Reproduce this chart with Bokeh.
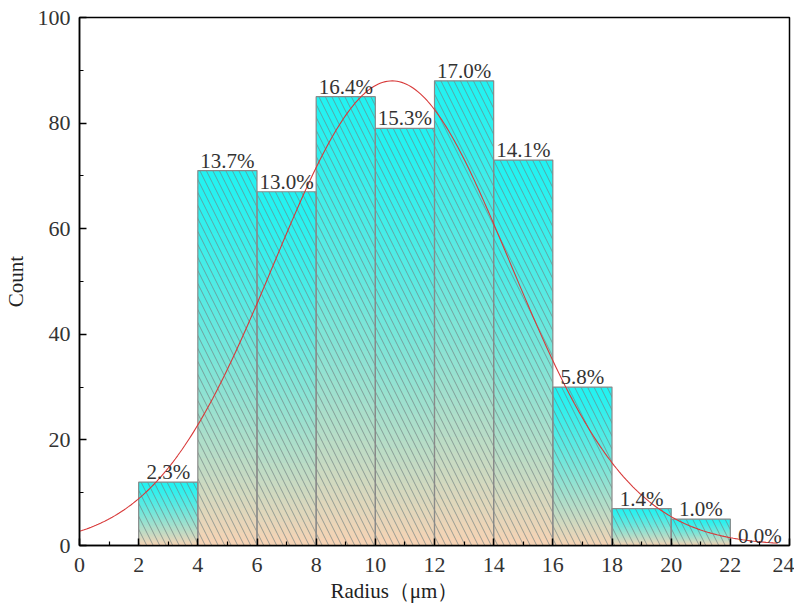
import numpy as np
from bokeh.plotting import figure
from bokeh.models import FixedTicker, Range1d, Title
from bokeh.core.properties import value
from bokeh.embed import file_html
from bokeh.resources import INLINE

# ---- data ----
bin_left = [2, 4, 6, 8, 10, 12, 14, 16, 18, 20, 22]
bin_right = [4, 6, 8, 10, 12, 14, 16, 18, 20, 22, 24]
counts = [12, 71, 67, 85, 79, 88, 73, 30, 7, 5, 0]
pct_labels = ["2.3%", "13.7%", "13.0%", "16.4%", "15.3%", "17.0%", "14.1%",
              "5.8%", "1.4%", "1.0%", "0.0%"]
# normal fit parameters (as drawn)
fit_mean = 10.57
fit_sigma = 4.0
fit_peak = 88.0
fit_x_start = 0.0
fit_x_end = 23.6

x_ticks = list(range(0, 25, 2))
x_minor = list(range(1, 24, 2))
y_ticks = [0, 20, 40, 60, 80, 100]
y_minor = [10, 30, 50, 70, 90]

x_title = "Radius（μm）"
y_title = "Count"

SERIF = "Liberation Serif"

p = figure(width=794, height=606, output_backend="svg", toolbar_location=None,
           x_range=Range1d(0, 24), y_range=Range1d(0, 100),
           min_border_left=79, min_border_right=5, min_border_top=17,
           min_border_bottom=61)
p.background_fill_color = "white"
p.border_fill_color = "white"
p.outline_line_color = "black"
p.outline_line_width = 1.5
p.xgrid.visible = False
p.ygrid.visible = False

# ---- gradient fill (cyan top -> peach bottom) via thin slices ----
top_rgb = np.array([0x22, 0xF2, 0xF2], dtype=float)
bot_rgb = np.array([0xF8, 0xD3, 0xB4], dtype=float)
nslices = 60
L, R, B, T, C = [], [], [], [], []
for l, r, c in zip(bin_left, bin_right, counts):
    if c <= 0:
        continue
    edges = np.linspace(0, c, nslices + 1)
    for i in range(nslices):
        frac = 1 - (i + 0.5) / nslices  # 0 at top, 1 at bottom
        t = frac ** 1.3
        rgb = top_rgb * (1 - t) + bot_rgb * t
        L.append(l); R.append(r)
        B.append(edges[i]); T.append(min(edges[i + 1] + 0.6, c))
        C.append("#%02x%02x%02x" % tuple(int(round(v)) for v in rgb))
p.quad(left=L, right=R, bottom=B, top=T, fill_color=C, line_color=None)

# hatch + outline
p.quad(left=bin_left, right=bin_right, bottom=0, top=counts,
       fill_alpha=0, line_color="#8a8a8a", line_width=1.2,
       hatch_pattern="left_diagonal_line", hatch_color="#6f7f7f",
       hatch_alpha=0.75, hatch_scale=13, hatch_weight=0.9)

# ---- normal fit curve ----
xs = np.linspace(fit_x_start, fit_x_end, 300)
ys = fit_peak * np.exp(-(xs - fit_mean) ** 2 / (2 * fit_sigma ** 2))
p.line(xs, ys, line_color="#d83a3a", line_width=1.1)

# ---- percentage labels ----
centers = [(l + r) / 2 for l, r in zip(bin_left, bin_right)]
p.text(x=centers, y=counts, text=pct_labels, text_align="center",
       text_baseline="bottom", y_offset=2, text_font=value(SERIF),
       text_font_size="21px", text_color="#333333")

# ---- axes ----
p.xaxis.ticker = FixedTicker(ticks=x_ticks, minor_ticks=x_minor)
p.yaxis.ticker = FixedTicker(ticks=y_ticks, minor_ticks=y_minor)
for ax in (p.xaxis[0], p.yaxis[0]):
    ax.axis_line_color = "black"
    ax.axis_line_width = 1.5
    ax.major_tick_in = 7
    ax.major_tick_out = 0
    ax.minor_tick_in = 4
    ax.minor_tick_out = 0
    ax.major_tick_line_width = 1.5
    ax.minor_tick_line_width = 1.2
    ax.major_tick_line_color = "black"
    ax.minor_tick_line_color = "black"
    ax.major_label_text_font = SERIF
    ax.major_label_text_font_size = "22px"
    ax.major_label_text_color = "#333333"
    ax.axis_label_text_font = SERIF
    ax.axis_label_text_font_size = "21px"
    ax.axis_label_text_font_style = "normal"
    ax.axis_label_text_color = "#222222"

p.yaxis.axis_label = y_title
p.xaxis.major_label_standoff = 12
p.yaxis.major_label_standoff = 9
p.yaxis.axis_label_standoff = 7

# x title sits left of centre in the reference -> a title panel below the axis
p.add_layout(Title(text=x_title, align="left", offset=251, standoff=5,
                   text_font=SERIF, text_font_size="21px",
                   text_font_style="normal", text_color="#222222"), "below")

open("out.html", "w").write(file_html(p, INLINE))
